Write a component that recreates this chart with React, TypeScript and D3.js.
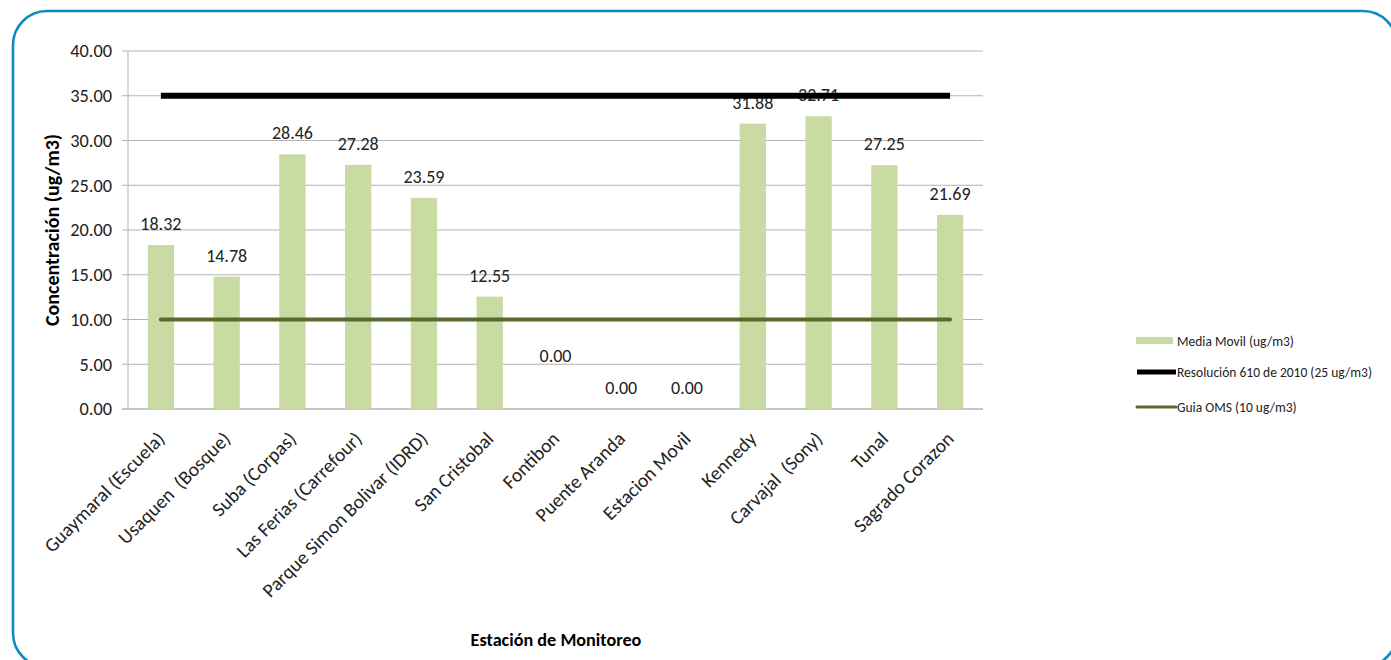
import React from "react";
import * as d3 from "d3";

const categories = [
  "Guaymaral (Escuela)",
  "Usaquen  (Bosque)",
  "Suba (Corpas)",
  "Las Ferias (Carrefour)",
  "Parque Simon Bolivar (IDRD)",
  "San Cristobal",
  "Fontibon",
  "Puente Aranda",
  "Estacion Movil",
  "Kennedy",
  "Carvajal  (Sony)",
  "Tunal",
  "Sagrado Corazon",
];
const mediaMovil = [18.32, 14.78, 28.46, 27.28, 23.59, 12.55, 0, 0, 0, 31.88, 32.71, 27.25, 21.69];
const resolucion = 35;
const guiaOMS = 10;
const yTicks = [0, 5, 10, 15, 20, 25, 30, 35, 40];
const legendLabels = ["Media Movil (ug/m3)", "Resolución 610 de 2010 (25 ug/m3)", "Guia OMS (10 ug/m3)"];

const FONT = "Carlito, Calibri, Lato, sans-serif";
const BAR = "#c9daa3";
const GREEN = "#566c2d";
const GRID = "#b3b3b3";

export default function App() {
  const left = 128, right = 983, top = 51, bottom = 409;
  const x = d3.scaleBand<string>().domain(categories).range([left, right]).paddingInner(0.6).paddingOuter(0.3);
  const xc = d3.scalePoint<string>().domain(categories).range([left, right]).padding(0.5);
  const y = d3.scaleLinear().domain([0, 40]).range([bottom, top]);
  const fmt = d3.format(".2f");
  const lineGen = d3.line<string>().x((c) => xc(c)!).y(() => 0);
  const labelNudge: Record<string, number> = { Fontibon: -32 };

  return (
    <div style={{ position: "fixed", left: 0, top: 0 }}>
      <svg width={1391} height={660} style={{ display: "block", fontFamily: FONT }}>
        <rect x={0} y={0} width={1391} height={660} fill="#fff" />
        <rect x={13} y={11} width={1384} height={656} rx={34} ry={34} fill="none" stroke="#1089c2" strokeWidth={2.6} />

        {/* gridlines */}
        {yTicks.map((t) => (
          <g key={t}>
            <line x1={left - 6} x2={right} y1={y(t)} y2={y(t)} stroke={t === 0 ? "#8c8c8c" : GRID} strokeWidth={1} />
            <text x={112} y={y(t)} dy="0.35em" textAnchor="end" fontSize={18.3} fill="#222">
              {fmt(t)}
            </text>
          </g>
        ))}
        <line x1={left} x2={left} y1={top} y2={bottom} stroke={GRID} strokeWidth={1} />

        {/* bars */}
        {categories.map((c, i) => (
          <rect key={c} x={x(c)} width={x.bandwidth()} y={y(mediaMovil[i])} height={bottom - y(mediaMovil[i])} fill={BAR} />
        ))}

        {/* value labels */}
        {categories.map((c, i) => (
          <text key={c} x={xc(c)} y={y(mediaMovil[i]) - 15 + (labelNudge[c] || 0)} textAnchor="middle" fontSize={18} fill="#222">
            {fmt(mediaMovil[i])}
          </text>
        ))}

        {/* reference lines */}
        <path d={lineGen(categories)!} transform={`translate(0,${y(resolucion)})`} stroke="#000" strokeWidth={6} fill="none" />
        <path d={lineGen(categories)!} transform={`translate(0,${y(guiaOMS)})`} stroke={GREEN} strokeWidth={4} strokeLinecap="round" fill="none" />

        {/* x labels */}
        {categories.map((c) => (
          <text key={c} transform={`translate(${xc(c)! + 5},${bottom + 31}) rotate(-45)`} textAnchor="end" fontSize={19.5} fill="#222" style={{ whiteSpace: "pre" }}>
            {c}
          </text>
        ))}

        {/* axis titles */}
        <text transform={`translate(59,${(top + bottom) / 2}) rotate(-90)`} textAnchor="middle" fontSize={20} fontWeight="bold" fill="#000">
          Concentración (ug/m3)
        </text>
        <text x={556} y={646} textAnchor="middle" fontSize={18.2} fontWeight="bold" fill="#000">
          Estación de Monitoreo
        </text>

        {/* legend */}
        <g fontSize={13.5} fill="#222">
          <rect x={1136} y={337} width={37} height={7} fill={BAR} />
          <text x={1177} y={341} dy="0.35em">{legendLabels[0]}</text>
          <line x1={1137} x2={1176} y1={372} y2={372} stroke="#000" strokeWidth={5} />
          <text x={1177} y={372} dy="0.35em">{legendLabels[1]}</text>
          <line x1={1137} x2={1176} y1={407} y2={407} stroke={GREEN} strokeWidth={3} strokeLinecap="round" />
          <text x={1177} y={407} dy="0.35em">{legendLabels[2]}</text>
        </g>
      </svg>
    </div>
  );
}
